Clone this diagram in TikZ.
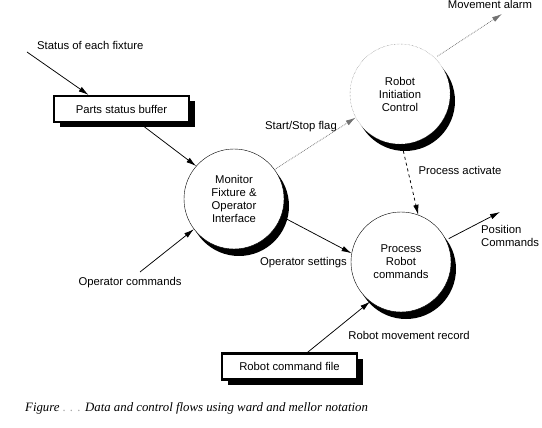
\documentclass[tikz,border=0pt]{standalone}
\usepackage{fontspec}
\setmainfont{Liberation Sans}
\newfontfamily\capfont{Liberation Serif}
\usetikzlibrary{arrows.meta}
\usetikzlibrary{calc}
\usetikzlibrary{shadows}

\begin{document}
\begin{tikzpicture}[x=1pt,y=-1pt]
		\tikzset{proc/.style = {shape=circle,draw,fill=white,minimum size=100pt,inner sep=0pt,align=center,font=\fontsize{11.3}{13}\selectfont,drop shadow={shadow xshift=5pt,shadow yshift=-7pt,fill=black,opacity=1}}}
		\tikzset{ctrl/.style = {proc,draw=black!60,densely dotted}}
		\tikzset{store/.style = {shape=rectangle,draw,line width=2.2pt,fill=white,minimum width=135pt,minimum height=26pt,inner sep=0pt,font=\fontsize{11.3}{13}\selectfont,drop shadow={shadow xshift=6pt,shadow yshift=-5pt,fill=black,opacity=1}}}
		\tikzset{lbl/.style = {inner sep=0pt,align=left,font=\fontsize{11.3}{13}\selectfont}}
		\tikzset{flow/.style = {-{Latex[length=10pt,width=5.5pt]},line width=0.75pt}}
		\tikzset{cflow/.style = {flow,densely dotted,draw=black!55}}
		\useasboundingbox (0,0) rectangle (542,428);
		% processes and stores
		\node[proc] (mon) at (234,199) {Monitor\\Fixture \&\\Operator\\Interface};
		\node[ctrl] (rinit) at (400,94) {Robot\\Initiation\\Control};
		\node[proc] (proc) at (401,262) {Process\\Robot\\commands};
		\node[store] (psb) at (121.5,109) {Parts status buffer};
		\node[store] (rcf) at (289.5,366.5) {Robot command file};
		
		% free ends
		\coordinate (fixin) at (27,52);
		\coordinate (opin) at (140,272);
		\coordinate (alarmout) at (502,14);
		\coordinate (posout) at (500,212);
		
		% labels
		\node[lbl, anchor=west] (lfix) at (37,45) {Status of each fixture};
		\node[lbl] (lop) at (130,283) {Operator commands};
		\node[lbl] (lset) at (303.5,263) {Operator settings};
		\node[lbl] (lflag) at (301,127) {Start/Stop flag};
		\node[lbl] (lalarm) at (490,4) {Movement alarm};
		\node[lbl] (lact) at (460,170) {Process activate};
		\node[lbl, anchor=west] (lpos) at (481,236) {Position\\Commands};
		\node[lbl] (lrec) at (409,335) {Robot movement record};
		
		%edges
		\draw[flow] (fixin) -- ($(psb.north)+(-33,0)$);
		\draw[flow] ($(psb.south)+(18,0)$) -- (mon.139);
		\draw[flow] (opin) -- (mon.217);
		\draw[flow, shorten <=6pt] (mon.-20) -- (proc.170);
		\draw[cflow] (mon.36) -- (rinit.208);
		\draw[cflow, shorten <=3pt] (rinit.46) -- (alarmout);
		\draw[flow, dashed, shorten <=7pt] (rinit.-88) -- (proc.70);
		\draw[flow, shorten <=3pt] (proc.26) -- (posout);
		\draw[flow] ($(rcf.north)+(18,0)$) -- (proc.232);
		
		% caption
		\node[inner sep=0pt, anchor=west, font=\capfont\itshape\fontsize{12.8}{14}\selectfont] (cap) at (25,408) {Figure \textcolor{black!35}{. . .} Data and control flows using ward and mellor notation};
\end{tikzpicture}
\end{document}
